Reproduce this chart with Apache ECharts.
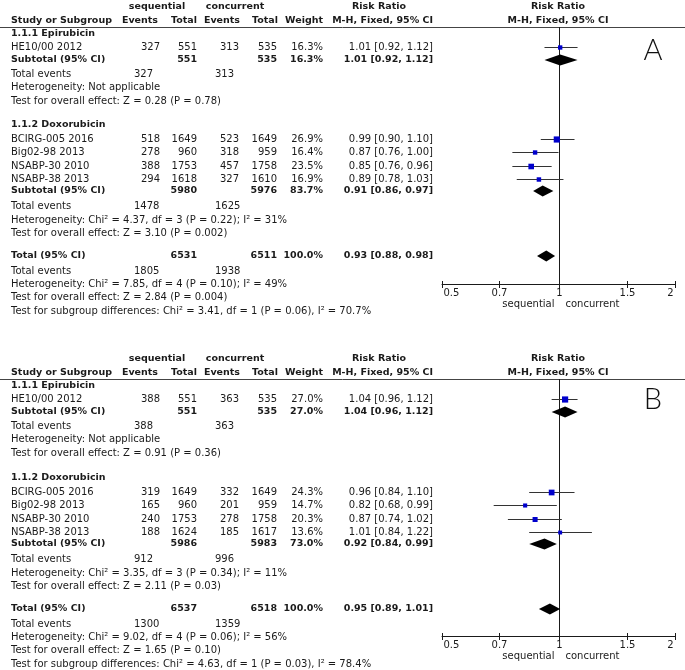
<!DOCTYPE html>
<html>
<head>
<meta charset="utf-8">
<script src="https://cdn.jsdelivr.net/npm/echarts@6.0.0/dist/echarts.min.js"></script>
<style>
  html, body { margin: 0; padding: 0; background: #fff; }
  #main { width: 685px; height: 670px; }
</style>
</head>
<body>
<div id="main"></div>
<script>
// ---- data ----
const groupNames = ['1.1.1 Epirubicin', '1.1.2 Doxorubicin'];
const studyNames = ['HE10/00 2012', 'BCIRG-005 2016', 'Big02-98 2013', 'NSABP-30 2010', 'NSABP-38 2013'];
const studyGroup = [0, 1, 1, 1, 1];
const tickValues = [0.5, 0.7, 1, 1.5, 2];

// panel A
const seqEventsA = [327, 518, 278, 388, 294];
const seqTotalA = [551, 1649, 960, 1753, 1618];
const conEventsA = [313, 523, 318, 457, 327];
const conTotalA = [535, 1649, 959, 1758, 1610];
const weightA = [16.3, 26.9, 16.4, 23.5, 16.9];
const rrA = [1.01, 0.99, 0.87, 0.85, 0.89];
const loA = [0.92, 0.90, 0.76, 0.76, 0.78];
const hiA = [1.12, 1.10, 1.00, 0.96, 1.03];
const subRrA = [1.01, 0.91];
const subLoA = [0.92, 0.86];
const subHiA = [1.12, 0.97];
const subSeqTotalA = [551, 5980];
const subConTotalA = [535, 5976];
const subWeightA = [16.3, 83.7];
const subSeqEventsA = [327, 1478];
const subConEventsA = [313, 1625];
const subHetA = ['Not applicable', 'Chi² = 4.37, df = 3 (P = 0.22); I² = 31%'];
const subZA = ['Z = 0.28 (P = 0.78)', 'Z = 3.10 (P = 0.002)'];
const totA = [0.93, 0.88, 0.98];             // rr, lo, hi
const totCountsA = [6531, 6511, 1805, 1938]; // seq total, con total, seq events, con events
const totHetA = 'Chi² = 7.85, df = 4 (P = 0.10); I² = 49%';
const totZA = 'Z = 2.84 (P = 0.004)';
const sgdA = 'Chi² = 3.41, df = 1 (P = 0.06), I² = 70.7%';

// panel B
const seqEventsB = [388, 319, 165, 240, 188];
const seqTotalB = [551, 1649, 960, 1753, 1624];
const conEventsB = [363, 332, 201, 278, 185];
const conTotalB = [535, 1649, 959, 1758, 1617];
const weightB = [27.0, 24.3, 14.7, 20.3, 13.6];
const rrB = [1.04, 0.96, 0.82, 0.87, 1.01];
const loB = [0.96, 0.84, 0.68, 0.74, 0.84];
const hiB = [1.12, 1.10, 0.99, 1.02, 1.22];
const subRrB = [1.04, 0.92];
const subLoB = [0.96, 0.84];
const subHiB = [1.12, 0.99];
const subSeqTotalB = [551, 5986];
const subConTotalB = [535, 5983];
const subWeightB = [27.0, 73.0];
const subSeqEventsB = [388, 912];
const subConEventsB = [363, 996];
const subHetB = ['Not applicable', 'Chi² = 3.35, df = 3 (P = 0.34); I² = 11%'];
const subZB = ['Z = 0.91 (P = 0.36)', 'Z = 2.11 (P = 0.03)'];
const totB = [0.95, 0.89, 1.01];
const totCountsB = [6537, 6518, 1300, 1359];
const totHetB = 'Chi² = 9.02, df = 4 (P = 0.06); I² = 56%';
const totZB = 'Z = 1.65 (P = 0.10)';
const sgdB = 'Chi² = 4.63, df = 1 (P = 0.03), I² = 78.4%';

// ---- layout (px inside a panel) ----
const W = 685;
const panelTops = [0, 352];
const lowerShift = [0, 1];      // panel B rows below the first group sit a touch lower
const letterY = [51, 48];
const axisY = 284;
const plotLeft = 442, plotWidth = 233;
const ruleY = 27;
const R = {
  h1: 7, h2: 21, grp: [34, 125],
  study: [47, 139, 152, 166, 179],
  sub: [60, 191], te: [74, 206], het: [87, 220], z: [101, 233],
  tot: 256, teT: 271, hetT: 284, zT: 297, sgd: 311
};
const C = { name: 11, seqE: 160, seqT: 197, conE: 239, conT: 277, wt: 323, rr: 433, teSeq: 134, teCon: 215 };
const FONT = 'DejaVu Sans';
const INK = '#1a1a1a';

const panels = [
  { letter: 'A', seqE: seqEventsA, seqT: seqTotalA, conE: conEventsA, conT: conTotalA, w: weightA, rr: rrA, lo: loA, hi: hiA,
    sRr: subRrA, sLo: subLoA, sHi: subHiA, sSeqT: subSeqTotalA, sConT: subConTotalA, sW: subWeightA,
    sSeqE: subSeqEventsA, sConE: subConEventsA, sHet: subHetA, sZ: subZA,
    tot: totA, totN: totCountsA, totHet: totHetA, totZ: totZA, sgd: sgdA },
  { letter: 'B', seqE: seqEventsB, seqT: seqTotalB, conE: conEventsB, conT: conTotalB, w: weightB, rr: rrB, lo: loB, hi: hiB,
    sRr: subRrB, sLo: subLoB, sHi: subHiB, sSeqT: subSeqTotalB, sConT: subConTotalB, sW: subWeightB,
    sSeqE: subSeqEventsB, sConE: subConEventsB, sHet: subHetB, sZ: subZB,
    tot: totB, totN: totCountsB, totHet: totHetB, totZ: totZB, sgd: sgdB }
];

function ci(r, l, h) { return r.toFixed(2) + ' [' + l.toFixed(2) + ', ' + h.toFixed(2) + ']'; }
function pct(v) { return v.toFixed(1) + '%'; }

// row y for a panel (rows from the second group down get the shift)
function rowY(y, pi) { return y >= R.grp[1] ? y + lowerShift[pi] : y; }

// text cells for one panel: [x, y, text, align, bold]
function tableCells(p, pi) {
  const t = [];
  const add = (x, y, s, a, b) => t.push([x, rowY(y, pi), s, a, b]);
  add(157, R.h1, 'sequential', 'center', 1);
  add(235, R.h1, 'concurrent', 'center', 1);
  add(379, R.h1, 'Risk Ratio', 'center', 1);
  add(558, R.h1, 'Risk Ratio', 'center', 1);
  add(C.name, R.h2, 'Study or Subgroup', 'left', 1);
  add(158, R.h2, 'Events', 'right', 1);
  add(C.seqT, R.h2, 'Total', 'right', 1);
  add(240, R.h2, 'Events', 'right', 1);
  add(278, R.h2, 'Total', 'right', 1);
  add(C.wt, R.h2, 'Weight', 'right', 1);
  add(C.rr, R.h2, 'M-H, Fixed, 95% CI', 'right', 1);
  add(558, R.h2, 'M-H, Fixed, 95% CI', 'center', 1);
  groupNames.forEach((g, gi) => {
    add(C.name, R.grp[gi], g, 'left', 1);
    studyNames.forEach((s, i) => {
      if (studyGroup[i] !== gi) return;
      const y = R.study[i];
      add(C.name, y, s, 'left', 0);
      add(C.seqE, y, String(p.seqE[i]), 'right', 0);
      add(C.seqT, y, String(p.seqT[i]), 'right', 0);
      add(C.conE, y, String(p.conE[i]), 'right', 0);
      add(C.conT, y, String(p.conT[i]), 'right', 0);
      add(C.wt, y, pct(p.w[i]), 'right', 0);
      add(C.rr, y, ci(p.rr[i], p.lo[i], p.hi[i]), 'right', 0);
    });
    const ys = R.sub[gi];
    add(C.name, ys, 'Subtotal (95% CI)', 'left', 1);
    add(C.seqT, ys, String(p.sSeqT[gi]), 'right', 1);
    add(C.conT, ys, String(p.sConT[gi]), 'right', 1);
    add(C.wt, ys, pct(p.sW[gi]), 'right', 1);
    add(C.rr, ys, ci(p.sRr[gi], p.sLo[gi], p.sHi[gi]), 'right', 1);
    add(C.name, R.te[gi], 'Total events', 'left', 0);
    add(C.teSeq, R.te[gi], String(p.sSeqE[gi]), 'left', 0);
    add(C.teCon, R.te[gi], String(p.sConE[gi]), 'left', 0);
    add(C.name, R.het[gi], 'Heterogeneity: ' + p.sHet[gi], 'left', 0);
    add(C.name, R.z[gi], 'Test for overall effect: ' + p.sZ[gi], 'left', 0);
  });
  add(C.name, R.tot, 'Total (95% CI)', 'left', 1);
  add(C.seqT, R.tot, String(p.totN[0]), 'right', 1);
  add(C.conT, R.tot, String(p.totN[1]), 'right', 1);
  add(C.wt, R.tot, pct(100), 'right', 1);
  add(C.rr, R.tot, ci(p.tot[0], p.tot[1], p.tot[2]), 'right', 1);
  add(C.name, R.teT, 'Total events', 'left', 0);
  add(C.teSeq, R.teT, String(p.totN[2]), 'left', 0);
  add(C.teCon, R.teT, String(p.totN[3]), 'left', 0);
  add(C.name, R.hetT, 'Heterogeneity: ' + p.totHet, 'left', 0);
  add(C.name, R.zT, 'Test for overall effect: ' + p.totZ, 'left', 0);
  add(C.name, R.sgd, 'Test for subgroup differences: ' + p.sgd, 'left', 0);
  return t;
}

function textEl(x, y, text, align, bold, size) {
  return {
    type: 'text', x: x, y: y,
    style: {
      text: text, fill: INK, fontFamily: FONT,
      fontSize: size || (bold ? 9.5 : 10), fontWeight: bold ? 'bold' : 'normal',
      align: align, verticalAlign: 'middle'
    }
  };
}

const grid = [], xAxis = [], yAxis = [], series = [];

panels.forEach((p, pi) => {
  const top = panelTops[pi];
  const tableH = (pi === 0 ? panelTops[1] : 670) - top;
  const gT = grid.length;
  grid.push({ left: 0, top: top, width: W, height: tableH });
  xAxis.push({ gridIndex: gT, type: 'value', min: 0, max: W, show: false });
  yAxis.push({ gridIndex: gT, type: 'value', min: 0, max: tableH, inverse: true, show: false });
  const gF = grid.length;
  grid.push({ left: plotLeft, top: top, width: plotWidth, height: axisY });
  xAxis.push({
    gridIndex: gF, type: 'log', logBase: 10, min: 0.5, max: 2,
    axisLine: { show: true, onZero: false, lineStyle: { color: INK, width: 1 } },
    axisTick: { show: false }, axisLabel: { show: false }, splitLine: { show: false }
  });
  yAxis.push({ gridIndex: gF, type: 'value', min: 0, max: axisY, inverse: true, show: false });

  // table text
  const cells = tableCells(p, pi);
  series.push({
    type: 'custom', xAxisIndex: gT, yAxisIndex: gT, clip: false, silent: true,
    data: cells.map(c => [c[0], c[1]]),
    renderItem: function (params, api) {
      const c = cells[params.dataIndex];
      const pt = api.coord([api.value(0), api.value(1)]);
      return textEl(pt[0], pt[1], c[2], c[3], c[4]);
    }
  });

  // header rule and panel letter
  series.push({
    type: 'custom', xAxisIndex: gT, yAxisIndex: gT, clip: false, silent: true,
    data: [[0, ruleY]],
    renderItem: function (params, api) {
      const a = api.coord([0, ruleY]);
      const b = api.coord([W, ruleY]);
      const yy = Math.round(a[1]) + 0.5;
      const l = api.coord([653, letterY[pi]]);
      return { type: 'group', children: [
        { type: 'line', shape: { x1: a[0], y1: yy, x2: b[0], y2: yy }, style: { stroke: '#444', lineWidth: 1 } },
        { type: 'text', x: l[0], y: l[1], style: { text: p.letter, fill: '#111', fontFamily: 'Lato', fontWeight: 300,
          fontSize: 29, align: 'center', verticalAlign: 'middle' } }
      ]};
    }
  });

  // reference line at RR = 1 + direction labels
  series.push({
    type: 'custom', xAxisIndex: gF, yAxisIndex: gF, clip: false, silent: true,
    data: [[1]],
    renderItem: function (params, api) {
      const a = api.coord([api.value(0), ruleY]);
      const b = api.coord([api.value(0), axisY]);
      const x = Math.round(a[0]) + 0.5;
      return { type: 'group', children: [
        { type: 'line', shape: { x1: x, y1: a[1], x2: x, y2: b[1] }, style: { stroke: INK, lineWidth: 1 } },
        textEl(x - 5, b[1] + 20, 'sequential', 'right', 0),
        textEl(x + 6, b[1] + 20, 'concurrent', 'left', 0)
      ]};
    }
  });

  // axis ticks + labels
  series.push({
    type: 'custom', xAxisIndex: gF, yAxisIndex: gF, clip: false, silent: true,
    data: tickValues.map(v => [v]),
    renderItem: function (params, api) {
      const pt = api.coord([api.value(0), axisY]);
      const x = Math.round(pt[0]) + 0.5;
      const n = tickValues.length;
      const align = params.dataIndex === 0 ? 'left' : (params.dataIndex === n - 1 ? 'right' : 'center');
      const lab = String(tickValues[params.dataIndex]);
      return { type: 'group', children: [
        { type: 'line', shape: { x1: x, y1: pt[1] - 3, x2: x, y2: pt[1] + 4 }, style: { stroke: INK, lineWidth: 1 } },
        textEl(align === 'left' ? x + 1 : (align === 'right' ? x - 2 : x), pt[1] + 9, lab, align, 0)
      ]};
    }
  });

  // studies: CI line + weighted square
  series.push({
    type: 'custom', xAxisIndex: gF, yAxisIndex: gF, clip: false, silent: true,
    data: p.rr.map((r, i) => [r, rowY(R.study[i], pi), p.lo[i], p.hi[i], p.w[i]]),
    renderItem: function (params, api) {
      const c = api.coord([api.value(0), api.value(1)]);
      const a = api.coord([api.value(2), api.value(1)]);
      const b = api.coord([api.value(3), api.value(1)]);
      const s = 1.6 + api.value(4) * 0.17;
      const yy = Math.round(c[1]) + 0.5;
      return { type: 'group', children: [
        { type: 'line', shape: { x1: a[0], y1: yy, x2: b[0], y2: yy }, style: { stroke: '#333', lineWidth: 1 } },
        { type: 'rect', shape: { x: c[0] - s / 2, y: yy - s / 2, width: s, height: s }, style: { fill: '#0000cc' } }
      ]};
    }
  });

  // diamonds for subtotals and overall
  const dia = p.sRr.map((r, i) => [r, rowY(R.sub[i], pi), p.sLo[i], p.sHi[i]]);
  dia.push([p.tot[0], rowY(R.tot, pi), p.tot[1], p.tot[2]]);
  series.push({
    type: 'custom', xAxisIndex: gF, yAxisIndex: gF, clip: false, silent: true,
    data: dia,
    renderItem: function (params, api) {
      const y = api.value(1), h = 5.5;
      const c = api.coord([api.value(0), y]);
      const a = api.coord([api.value(2), y]);
      const b = api.coord([api.value(3), y]);
      return { type: 'polygon', shape: { points: [[a[0], c[1]], [c[0], c[1] - h], [b[0], c[1]], [c[0], c[1] + h]] },
        style: { fill: '#000' } };
    }
  });
});

const chart = echarts.init(document.getElementById('main'), null, { renderer: 'canvas' });
chart.setOption({
  animation: false,
  backgroundColor: '#fff',
  grid: grid, xAxis: xAxis, yAxis: yAxis, series: series
});
</script>
</body>
</html>
